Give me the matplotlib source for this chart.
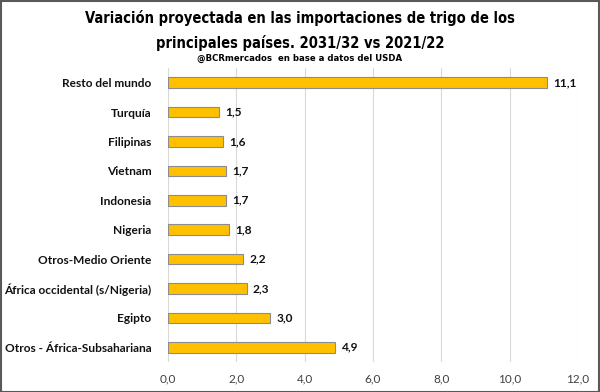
import matplotlib
matplotlib.use("Agg")
import matplotlib.pyplot as plt
from matplotlib.patches import Rectangle

categories = ["Resto del mundo", "Turquía", "Filipinas", "Vietnam", "Indonesia",
              "Nigeria", "Otros-Medio Oriente", "África occidental (s/Nigeria)",
              "Egipto", "Otros - África-Subsahariana"]
values = [11.1, 1.5, 1.6, 1.7, 1.7, 1.8, 2.2, 2.3, 3.0, 4.9]
xticks = [0, 2, 4, 6, 8, 10, 12]

title_font = "DejaVu Sans"
label_font = "Lato"

fig = plt.figure(figsize=(6, 3.92), dpi=100)
ax = fig.add_axes([0.28, 0.0765, 0.683, 0.75])

y = list(range(len(categories)))
ax.barh(y, values, height=0.36, color="#FFC000", edgecolor="#8c8c8c", linewidth=0.8, zorder=3)
ax.set_ylim(len(categories) - 0.5, -0.5)
ax.set_xlim(0, 12)
ax.set_xticks(xticks)
ax.set_xticklabels([f"{v:.1f}".replace(".", ",") for v in xticks],
                   fontsize=8.5, color="#404040", fontfamily=label_font)
ax.set_yticks(y)
ax.set_yticklabels(categories, fontsize=8.6, fontweight="bold", fontfamily=label_font, color="#111111")
ax.tick_params(axis="both", length=0)
ax.tick_params(axis="y", pad=12)
ax.tick_params(axis="x", pad=8)
ax.grid(axis="x", color="#d9d9d9", linewidth=0.8, zorder=0)
for s in ax.spines.values():
    s.set_visible(False)

for yi, v in zip(y, values):
    ax.annotate(f"{v:.1f}".replace(".", ","), (v, yi), xytext=(4.5, 0), textcoords="offset points",
                va="center", ha="left", fontsize=8.6, fontweight="bold", fontfamily=label_font,
                color="#111111")

tkw = dict(ha="center", va="center", fontweight="bold", fontfamily=title_font, fontstretch="condensed")
fig.text(0.5, 0.953, "Variación proyectada en las importaciones de trigo de los", fontsize=10.5, **tkw)
fig.text(0.5, 0.89, "principales países. 2031/32 vs 2021/22", fontsize=10.5, **tkw)
fig.text(0.5, 0.851, "@BCRmercados  en base a datos del USDA", fontsize=6.8, **tkw)

fig.patches.append(Rectangle((0.001, 0.001), 0.997, 0.997, transform=fig.transFigure,
                             fill=False, edgecolor="#595959", linewidth=1.5))

fig.savefig("out.png", dpi=100)
